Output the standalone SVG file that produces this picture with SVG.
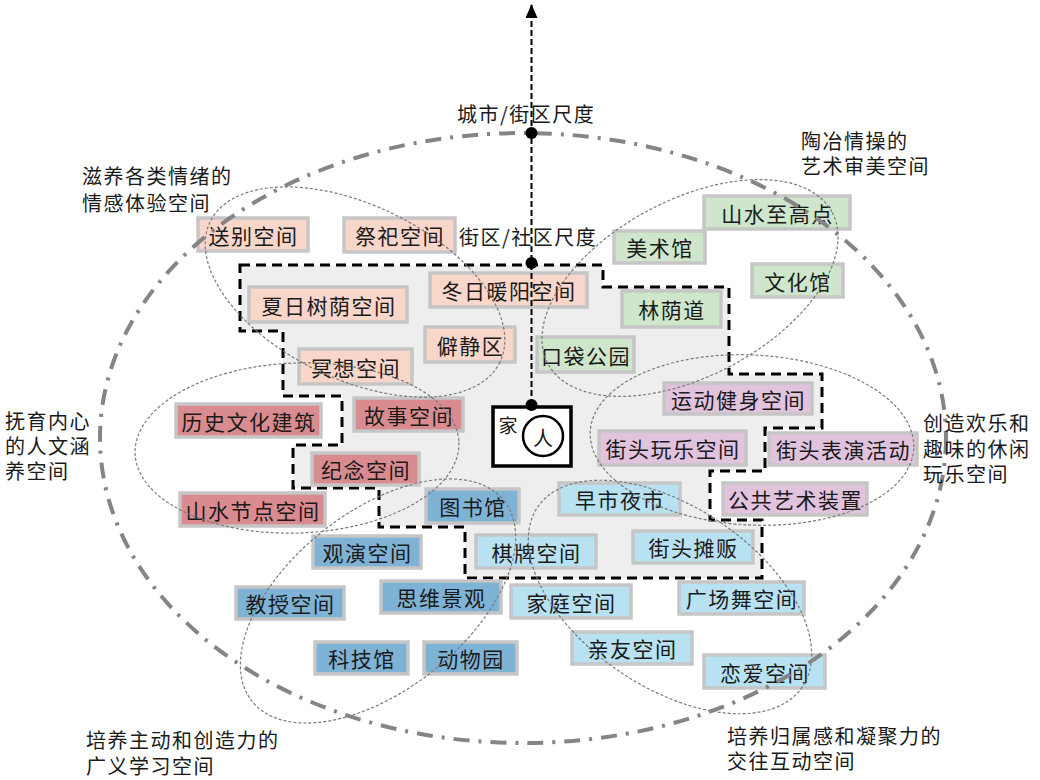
<svg xmlns="http://www.w3.org/2000/svg" width="1040" height="780" viewBox="0 0 1040 780">
<defs>
<style>
text{font-family:"Noto Sans CJK SC","Noto Sans",sans-serif;fill:#1a1a1a;}
.nt{font-size:21px;letter-spacing:1.5px;text-anchor:middle;dominant-baseline:central;}
.lb{font-size:20px;letter-spacing:1.5px;dominant-baseline:central;}
.box{stroke:#c6c6c6;stroke-width:3.5;}
.pk{fill:#f8d7ca;}
.gr{fill:#cfe6cc;}
.rd{fill:#d98b8f;}
.pu{fill:#e2c3de;}
.bl{fill:#7fb3d6;}
.lbl{fill:#b8e2f2;}
.sm{fill:none;stroke:#7a7a7a;stroke-width:1.2;stroke-dasharray:3 2;}
</style>
<marker id="arr" markerWidth="14" markerHeight="12" refX="13" refY="6" orient="auto" markerUnits="userSpaceOnUse">
<path d="M0,0 L14,6 L0,12 Z" fill="#000"/>
</marker>
</defs>
<rect width="1040" height="780" fill="#fff"/>

<g id="region">
<path d="M240,265 L603,265 L603,287 L729,287 L729,374 L822,374 L822,428 L765,428 L765,471 L710,471 L710,520 L762,520 L762,578 L465,578 L465,527 L379,527 L379,488 L293,488 L293,445 L342,445 L342,396 L283,396 L283,331 L240,331 Z" fill="#eeeeee" stroke="#000" stroke-width="3" stroke-dasharray="10 6"/>
</g>

<g id="n-songbie"><rect class="box pk" x="198" y="218" width="110" height="33"/><text class="nt" x="253.5" y="234.5">送别空间</text></g>
<g id="n-jisi"><rect class="box pk" x="344" y="218" width="111" height="34"/><text class="nt" x="400" y="235">祭祀空间</text></g>
<g id="n-dongri"><rect class="box pk" x="430" y="273" width="157" height="34"/><text class="nt" x="509" y="290">冬日暖阳空间</text></g>
<g id="n-xiari"><rect class="box pk" x="249" y="287" width="158" height="35"/><text class="nt" x="329" y="304.5">夏日树荫空间</text></g>
<g id="n-pijing"><rect class="box pk" x="425" y="327" width="90" height="35"/><text class="nt" x="470.5" y="344.5">僻静区</text></g>
<g id="n-mingxiang"><rect class="box pk" x="299" y="349" width="113" height="35"/><text class="nt" x="356" y="366.5">冥想空间</text></g>

<g id="n-shanshui-high"><rect class="box gr" x="704" y="196" width="146" height="33"/><text class="nt" x="777.5" y="212.5">山水至高点</text></g>
<g id="n-meishu"><rect class="box gr" x="614" y="231" width="91" height="32"/><text class="nt" x="660" y="247">美术馆</text></g>
<g id="n-wenhua"><rect class="box gr" x="752" y="264" width="91" height="33"/><text class="nt" x="798" y="280.5">文化馆</text></g>
<g id="n-linyin"><rect class="box gr" x="622" y="291" width="99" height="36"/><text class="nt" x="672" y="309">林荫道</text></g>
<g id="n-koudai"><rect class="box gr" x="537" y="337" width="97" height="35"/><text class="nt" x="586" y="354.5">口袋公园</text></g>

<g id="n-lishi"><rect class="box rd" x="176" y="404" width="145" height="33"/><text class="nt" x="249" y="420.5">历史文化建筑</text></g>
<g id="n-gushi"><rect class="box rd" x="354" y="398" width="109" height="33"/><text class="nt" x="409" y="414.5">故事空间</text></g>
<g id="n-jinian"><rect class="box rd" x="312" y="453" width="107" height="32"/><text class="nt" x="366" y="469">纪念空间</text></g>
<g id="n-shanshui-node"><rect class="box rd" x="180" y="493" width="145" height="33"/><text class="nt" x="253" y="509.5">山水节点空间</text></g>

<g id="n-yundong"><rect class="box pu" x="664" y="383" width="148" height="31"/><text class="nt" x="738.5" y="398.5">运动健身空间</text></g>
<g id="n-wanle"><rect class="box pu" x="599" y="431" width="147" height="34"/><text class="nt" x="673" y="448">街头玩乐空间</text></g>
<g id="n-biaoyan"><rect class="box pu" x="769" y="433" width="148" height="32"/><text class="nt" x="843.5" y="449">街头表演活动</text></g>
<g id="n-gonggong"><rect class="box pu" x="723" y="483" width="144" height="32"/><text class="nt" x="795.5" y="499">公共艺术装置</text></g>

<g id="n-tushu"><rect class="box bl" x="426" y="489" width="93" height="34"/><text class="nt" x="473" y="506">图书馆</text></g>
<g id="n-guanyan"><rect class="box bl" x="313" y="536" width="108" height="32"/><text class="nt" x="367.5" y="552">观演空间</text></g>
<g id="n-jiaoshou"><rect class="box bl" x="236" y="587" width="108" height="32"/><text class="nt" x="290.5" y="603">教授空间</text></g>
<g id="n-siwei"><rect class="box bl" x="381" y="581" width="120" height="32"/><text class="nt" x="441.5" y="597">思维景观</text></g>
<g id="n-keji"><rect class="box bl" x="315" y="642" width="93" height="32"/><text class="nt" x="362" y="658">科技馆</text></g>
<g id="n-dongwu"><rect class="box bl" x="424" y="642" width="93" height="32"/><text class="nt" x="471" y="658">动物园</text></g>

<g id="n-zaoshi"><rect class="box lbl" x="559" y="483" width="121" height="32"/><text class="nt" x="620" y="499">早市夜市</text></g>
<g id="n-qipai"><rect class="box lbl" x="476" y="535" width="120" height="33"/><text class="nt" x="536.5" y="551.5">棋牌空间</text></g>
<g id="n-tanfan"><rect class="box lbl" x="633" y="531" width="120" height="32"/><text class="nt" x="693.5" y="547">街头摊贩</text></g>
<g id="n-jiating"><rect class="box lbl" x="511" y="585" width="120" height="33"/><text class="nt" x="571.5" y="601.5">家庭空间</text></g>
<g id="n-guangchang"><rect class="box lbl" x="679" y="582" width="125" height="32"/><text class="nt" x="742" y="598">广场舞空间</text></g>
<g id="n-qinyou"><rect class="box lbl" x="572" y="632" width="120" height="32"/><text class="nt" x="632.5" y="648">亲友空间</text></g>
<g id="n-lianai"><rect class="box lbl" x="704" y="655" width="121" height="33"/><text class="nt" x="765" y="671.5">恋爱空间</text></g>

<g id="groups">
<ellipse class="sm" cx="355" cy="292" rx="161" ry="87" transform="rotate(25.8 355 292)"/>
<ellipse class="sm" cx="690" cy="288" rx="161" ry="88" transform="rotate(-28 690 288)"/>
<ellipse class="sm" cx="297" cy="448" rx="162" ry="85" transform="rotate(-2 297 448)"/>
<ellipse class="sm" cx="752" cy="440" rx="162" ry="85" transform="rotate(3 752 440)"/>
<ellipse class="sm" cx="378" cy="601" rx="161" ry="89" transform="rotate(-38.5 378 601)"/>
<ellipse class="sm" cx="670" cy="597" rx="160" ry="90" transform="rotate(34.2 670 597)"/>
</g>

<g id="scope">
<ellipse cx="523" cy="438" rx="423" ry="305" fill="none" stroke="#858585" stroke-width="4" stroke-dasharray="16 9 3 9"/>
</g>

<g id="home">
<rect x="493" y="407" width="78" height="59" fill="#fff" stroke="#000" stroke-width="3.5"/>
<circle cx="543" cy="436" r="20" fill="#fff" stroke="#000" stroke-width="2.5"/>
<text x="508" y="424" style="font-size:19px;text-anchor:middle;dominant-baseline:central;">家</text>
<text x="543" y="437" style="font-size:20px;text-anchor:middle;dominant-baseline:central;">人</text>
</g>

<g id="connectors">
<line x1="531.5" y1="405" x2="531.5" y2="5" stroke="#000" stroke-width="2" stroke-dasharray="6 3" marker-end="url(#arr)"/>
<circle cx="531.5" cy="133" r="6" fill="#000"/>
<circle cx="531.5" cy="263" r="6" fill="#000"/>
<circle cx="531.5" cy="405" r="6" fill="#000"/>
</g>

<g id="labels">
<text class="lb" x="457" y="113">城市/街区尺度</text>
<text class="lb" x="459" y="236">街区/社区尺度</text>
<text class="lb" x="82" y="175">滋养各类情绪的<tspan x="82" dy="27">情感体验空间</tspan></text>
<text class="lb" x="801" y="140">陶冶情操的<tspan x="801" dy="25">艺术审美空间</tspan></text>
<text class="lb" x="5" y="420">抚育内心<tspan x="5" dy="25">的人文涵</tspan><tspan x="5" dy="25">养空间</tspan></text>
<text class="lb" x="923" y="422">创造欢乐和<tspan x="923" dy="26">趣味的休闲</tspan><tspan x="923" dy="25">玩乐空间</tspan></text>
<text class="lb" x="86" y="739">培养主动和创造力的<tspan x="86" dy="26">广义学习空间</tspan></text>
<text class="lb" x="727" y="735">培养归属感和凝聚力的<tspan x="727" dy="25">交往互动空间</tspan></text>
</g>
</svg>
